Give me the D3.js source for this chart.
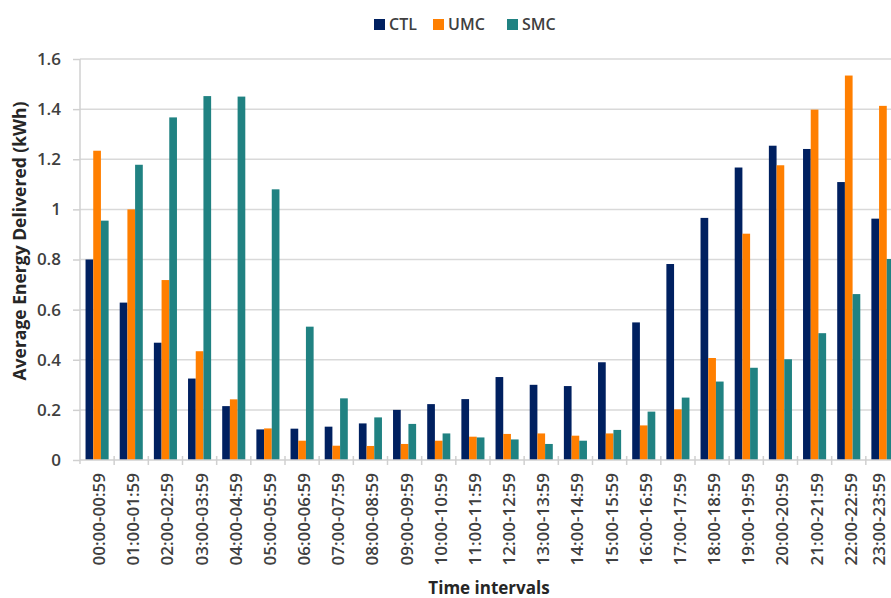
<!DOCTYPE html>
<html>
<head>
<meta charset="utf-8">
<script src="https://cdn.jsdelivr.net/npm/d3@7"></script>
<style>
  html, body { margin: 0; padding: 0; background: #fff; }
  svg { display: block; font-family: "Open Sans", sans-serif; }
</style>
</head>
<body>
<svg id="chart" width="891" height="598"></svg>
<script>
const categories = ["00:00-00:59","01:00-01:59","02:00-02:59","03:00-03:59","04:00-04:59","05:00-05:59",
  "06:00-06:59","07:00-07:59","08:00-08:59","09:00-09:59","10:00-10:59","11:00-11:59",
  "12:00-12:59","13:00-13:59","14:00-14:59","15:00-15:59","16:00-16:59","17:00-17:59",
  "18:00-18:59","19:00-19:59","20:00-20:59","21:00-21:59","22:00-22:59","23:00-23:59"];
const seriesNames = ["CTL","UMC","SMC"];
const ctl = [0.80,0.628,0.468,0.325,0.215,0.122,0.125,0.133,0.146,0.200,0.223,0.243,
             0.331,0.300,0.295,0.390,0.549,0.782,0.966,1.167,1.254,1.241,1.109,0.963];
const umc = [1.234,1.000,0.718,0.434,0.242,0.126,0.077,0.057,0.056,0.064,0.077,0.093,
             0.104,0.106,0.097,0.106,0.138,0.202,0.407,0.903,1.176,1.398,1.534,1.413];
const smc = [0.955,1.178,1.367,1.452,1.450,1.080,0.532,0.246,0.170,0.144,0.106,0.090,
             0.082,0.064,0.077,0.120,0.193,0.249,0.313,0.368,0.402,0.506,0.662,0.802];
const yTicks = [0,0.2,0.4,0.6,0.8,1,1.2,1.4,1.6];
const colors = ["#002060","#FF7F00","#208282"];

const svg = d3.select("#chart");
const W = 891;
const pLeft = 80, pRight = 900, pTop = 59, pBottom = 460;

const x0 = d3.scaleBand().domain(categories).range([pLeft, pRight]).padding(0);
const x1 = d3.scaleBand().domain(seriesNames).range([0, x0.bandwidth()]).paddingInner(0).paddingOuter(0.72);
const y = d3.scaleLinear().domain([0, 1.6]).range([pBottom, pTop]);
const color = d3.scaleOrdinal().domain(seriesNames).range(colors);

// gridlines
svg.append("g").selectAll("line").data(yTicks.filter(d => d > 0)).join("line")
  .attr("x1", pLeft).attr("x2", W)
  .attr("y1", d => y(d)).attr("y2", d => y(d))
  .attr("stroke", "#d9d9d9").attr("stroke-width", 1.5);

// y axis
const yAxis = d3.axisLeft(y).tickValues(yTicks).tickSize(7).tickPadding(12)
  .tickFormat(d => String(+d.toFixed(1)));
const gy = svg.append("g").attr("transform", `translate(${pLeft},0)`).call(yAxis);
gy.select(".domain").attr("stroke", "#d0d0d0").attr("stroke-width", 1.5)
  .attr("d", `M0,${pTop}V${pBottom + 4}`);
gy.selectAll(".tick line").attr("stroke", "#d0d0d0").attr("stroke-width", 1.5);
gy.selectAll(".tick text").attr("fill", "#404040").style("font-size", "17px")
  .style("font-family", "'Open Sans', sans-serif").style("font-weight", "600");

// bars
const data = seriesNames.map((s, i) => ({ name: s, values: [ctl, umc, smc][i] }));
const groups = svg.append("g").selectAll("g").data(categories).join("g")
  .attr("transform", d => `translate(${x0(d)},0)`);
groups.selectAll("rect")
  .data((c, ci) => data.map(s => ({ name: s.name, v: s.values[ci] })))
  .join("rect")
  .attr("x", d => x1(d.name))
  .attr("width", x1.bandwidth())
  .attr("y", d => y(d.v))
  .attr("height", d => y(0) - y(d.v))
  .attr("fill", d => color(d.name));

// x axis line and ticks
const gx = svg.append("g").attr("transform", `translate(0,${pBottom})`);
gx.append("line").attr("x1", pLeft).attr("x2", W).attr("y1", 0).attr("y2", 0)
  .attr("stroke", "#d0d0d0").attr("stroke-width", 1.5);
gx.selectAll("line.tk").data(categories.slice(1)).join("line").attr("class", "tk")
  .attr("x1", d => x0(d)).attr("x2", d => x0(d)).attr("y1", -4).attr("y2", 5)
  .attr("stroke", "#d0d0d0").attr("stroke-width", 1.5);
gx.selectAll("text").data(categories).join("text")
  .attr("transform", d => `translate(${Math.min(x0(d) + x0.bandwidth() / 2 + 2, W - 12)},${13}) rotate(-90)`)
  .attr("text-anchor", "end").attr("dy", "0.35em")
  .attr("fill", "#404040").style("font-size", "17px").style("font-weight", "600")
  .text(d => d);

// axis titles
svg.append("text").attr("x", 489).attr("y", 594).attr("text-anchor", "middle")
  .attr("fill", "#262626").style("font-size", "17px").style("font-weight", "700")
  .text("Time intervals");
svg.append("text").attr("transform", "translate(26,241) rotate(-90)")
  .attr("text-anchor", "middle")
  .attr("fill", "#262626").style("font-size", "17.5px").style("font-weight", "700")
  .text("Average Energy Delivered (kWh)");

// legend
const legendX = [374, 433, 507];
const lg = svg.append("g").selectAll("g").data(seriesNames).join("g")
  .attr("transform", (d, i) => `translate(${legendX[i]},19)`);
lg.append("rect").attr("width", 11).attr("height", 11).attr("fill", d => color(d));
lg.append("text").attr("x", 15).attr("y", 11).attr("fill", "#404040")
  .style("font-size", "16px").style("font-weight", "600").text(d => d);
</script>
</body>
</html>
